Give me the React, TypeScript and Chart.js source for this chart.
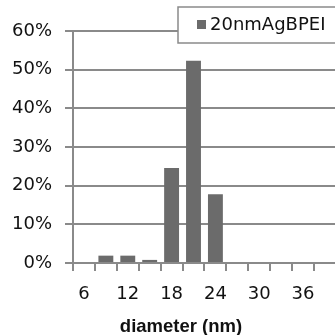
import React, { useEffect, useRef } from "react";
import { Chart, registerables } from "chart.js";

Chart.register(...registerables);

const categories = ["6", "9", "12", "15", "18", "21", "24", "27", "30", "33", "36", "39"];
const values = [0, 1.9, 1.9, 0.8, 24.6, 52.3, 17.8, 0, 0, 0, 0, 0];
const xTickLabels = ["6", "12", "18", "24", "30", "36"];
const yTicks = [0, 10, 20, 30, 40, 50, 60];
const seriesName = "20nmAgBPEI";
const xTitle = "diameter (nm)";

const BAR = "#6b6b6b";
const GRID = "#8a8a8a";
const TICK_FONT = "'DejaVu Sans', sans-serif";

const overlayPlugin = {
  id: "overlay",
  afterDraw(chart: any) {
    const ctx = chart.ctx;
    const ca = chart.chartArea;
    ctx.save();
    // legend box
    const bx = ca.left + 105;
    const by = ca.top - 24;
    const bw = 170;
    const bh = 36;
    ctx.fillStyle = "#ffffff";
    ctx.fillRect(bx, by, bw, bh);
    ctx.strokeStyle = GRID;
    ctx.lineWidth = 1.5;
    ctx.strokeRect(bx, by, bw, bh);
    ctx.fillStyle = BAR;
    ctx.fillRect(bx + 19, by + 13, 9, 9);
    ctx.fillStyle = "#111111";
    ctx.font = "18px 'DejaVu Sans', sans-serif";
    ctx.textAlign = "left";
    ctx.textBaseline = "middle";
    ctx.fillText(chart.data.datasets[0].label, bx + 32, by + 18.5);
    // x axis title
    ctx.font = "bold 18.5px 'Liberation Sans', Arial, sans-serif";
    ctx.textAlign = "center";
    ctx.textBaseline = "alphabetic";
    ctx.fillText(xTitle, ca.left + 108, chart.height - 3);
    ctx.restore();
  },
};

export default function App() {
  const ref = useRef<HTMLCanvasElement | null>(null);
  useEffect(() => {
    if (!ref.current) return;
    const chart = new Chart(ref.current, {
      type: "bar",
      data: {
        labels: categories,
        datasets: [
          {
            label: seriesName,
            data: values,
            backgroundColor: BAR,
            borderWidth: 0,
            barPercentage: 0.68,
            categoryPercentage: 1,
          },
        ],
      },
      options: {
        animation: false,
        responsive: true,
        maintainAspectRatio: false,
        layout: { padding: { top: 31, right: 1, left: 0, bottom: 0 } },
        plugins: {
          legend: { display: false },
          tooltip: { enabled: false },
          title: { display: false },
        },
        scales: {
          x: {
            offset: true,
            grid: {
              display: true,
              offset: true,
              drawOnChartArea: false,
              drawTicks: true,
              tickLength: 8,
              color: GRID,
              lineWidth: 2,
            },
            border: { display: true, color: GRID, width: 2 },
            ticks: {
              autoSkip: false,
              maxRotation: 0,
              padding: 13,
              color: "#111",
              font: { family: TICK_FONT, size: 18 },
              callback: function (_v: any, i: number) {
                const l = categories[i];
                return xTickLabels.includes(l) ? l : "";
              },
            },
            afterFit: (s: any) => {
              s.height = 72;
            },
          },
          y: {
            min: yTicks[0],
            max: yTicks[yTicks.length - 1],
            grid: {
              color: GRID,
              lineWidth: 2,
              drawTicks: true,
              tickLength: 8,
            },
            border: { display: true, color: GRID, width: 2 },
            ticks: {
              stepSize: 10,
              padding: 13,
              color: "#111",
              font: { family: TICK_FONT, size: 18 },
              callback: (v: any) => v + "%",
            },
            afterFit: (s: any) => {
              s.width = 73;
            },
          },
        },
      },
      plugins: [overlayPlugin],
    });
    return () => chart.destroy();
  }, []);
  return (
    <div style={{ position: "fixed", left: 0, top: 0, width: 335, height: 335, overflow: "hidden", background: "#fff" }}>
      <div style={{ width: 338, height: 335, position: "relative" }}>
        <canvas ref={ref} />
      </div>
    </div>
  );
}
